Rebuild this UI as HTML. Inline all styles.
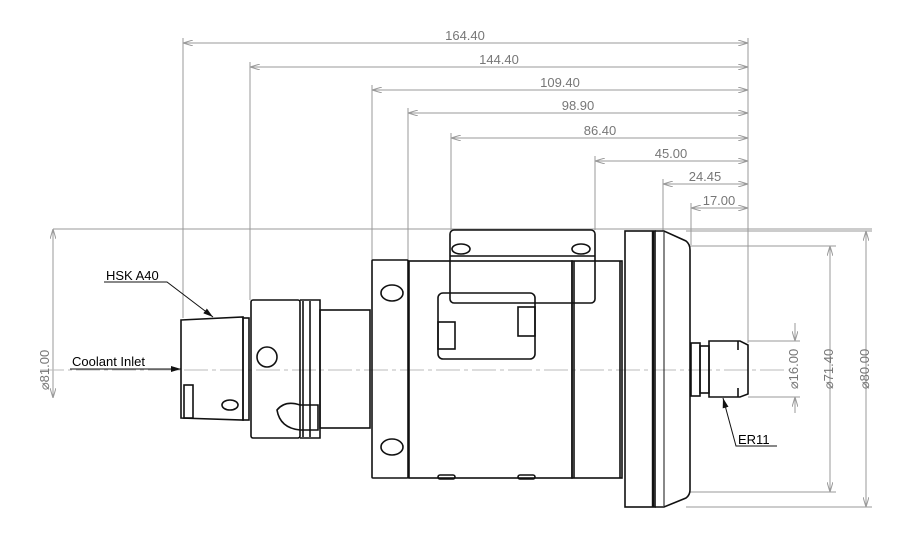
<!DOCTYPE html>
<html><head><meta charset="utf-8"><style>
html,body{margin:0;padding:0;background:#fff;}
svg{display:block;}
.d{stroke:#999;stroke-width:1;fill:none}
.k{stroke:#111;stroke-width:1.6;fill:none}
.kt{stroke:#111;stroke-width:1;fill:none}
text{font-family:"Liberation Sans",sans-serif;}
.dt{font-size:13px;fill:#777;}
.lt{font-size:13px;fill:#000;}
</style></head><body>
<svg width="918" height="534" viewBox="0 0 918 534" xmlns="http://www.w3.org/2000/svg">
<defs>
<marker id="a" viewBox="0 0 10 6" refX="10" refY="3" markerWidth="10" markerHeight="6" orient="auto-start-reverse" markerUnits="userSpaceOnUse"><path d="M0,0 L10,3 L0,6" fill="none" stroke="#999"/></marker>
<marker id="b" viewBox="0 0 10 6" refX="10" refY="3" markerWidth="10" markerHeight="6" orient="auto" markerUnits="userSpaceOnUse"><path d="M0,0 L10,3 L0,6z" fill="#111"/></marker>
</defs>
<g class="d" marker-start="url(#a)" marker-end="url(#a)">
<line x1="183" y1="43" x2="748" y2="43"/>
<line x1="250" y1="67" x2="748" y2="67"/>
<line x1="372" y1="90" x2="748" y2="90"/>
<line x1="408" y1="113" x2="748" y2="113"/>
<line x1="451" y1="138" x2="748" y2="138"/>
<line x1="595" y1="161" x2="748" y2="161"/>
<line x1="663" y1="184" x2="748" y2="184"/>
<line x1="691" y1="208" x2="748" y2="208"/>
<line x1="53" y1="229" x2="53" y2="398"/>
<line x1="866" y1="231" x2="866" y2="507"/>
<line x1="830" y1="246" x2="830" y2="492"/>
</g>
<g class="d">
<line x1="183" y1="38" x2="183" y2="318"/>
<line x1="250" y1="62" x2="250" y2="300"/>
<line x1="372" y1="85" x2="372" y2="260"/>
<line x1="408" y1="108" x2="408" y2="261"/>
<line x1="451" y1="133" x2="451" y2="230"/>
<line x1="595" y1="156" x2="595" y2="230"/>
<line x1="663" y1="179" x2="663" y2="231"/>
<line x1="691" y1="203" x2="691" y2="245"/>
<line x1="748" y1="38" x2="748" y2="343"/>
<line x1="53" y1="229" x2="872" y2="229"/>
<line x1="686" y1="231" x2="872" y2="231"/>
<line x1="690" y1="246" x2="836" y2="246"/>
<line x1="690" y1="492" x2="836" y2="492"/>
<line x1="686" y1="507" x2="872" y2="507"/>
<line x1="748" y1="341" x2="800" y2="341"/>
<line x1="748" y1="397" x2="800" y2="397"/>
<line x1="795" y1="323" x2="795" y2="341" marker-end="url(#a)"/>
<line x1="795" y1="413" x2="795" y2="397" marker-end="url(#a)"/>
<line x1="40" y1="370" x2="790" y2="370" stroke-dasharray="24,4,4,4" stroke="#bbb"/>
</g>
<g class="dt" text-anchor="middle">
<text x="465" y="40">164.40</text>
<text x="499" y="64">144.40</text>
<text x="560" y="87">109.40</text>
<text x="578" y="110">98.90</text>
<text x="600" y="135">86.40</text>
<text x="671" y="158">45.00</text>
<text x="705" y="181">24.45</text>
<text x="719" y="205">17.00</text>
<text transform="translate(49,370) rotate(-90)">⌀81.00</text>
<text transform="translate(798,369) rotate(-90)">⌀16.00</text>
<text transform="translate(833,369) rotate(-90)">⌀71.40</text>
<text transform="translate(869,369) rotate(-90)">⌀80.00</text>
</g>
<text class="lt" x="106" y="280">HSK A40</text>
<polyline class="kt" points="104,282 167,282 213,317" marker-end="url(#b)"/>
<text class="lt" x="72" y="366">Coolant Inlet</text>
<line class="kt" x1="70" y1="369" x2="181" y2="369" marker-end="url(#b)"/>
<text class="lt" x="738" y="444">ER11</text>
<polyline class="kt" points="777,446 736,446 723,398" marker-end="url(#b)"/>
<g class="k">
<path d="M181,320 L243,317 L243,420 L181,418 Z"/>
<rect x="243" y="318" width="6" height="102"/>
<rect x="184" y="385" width="9" height="33"/>
<ellipse cx="230" cy="405" rx="8" ry="5"/>
<rect x="251" y="300" width="49" height="138" rx="2"/>
<circle cx="267" cy="357" r="10"/>
<path d="M300,300 L320,300 L320,438 L300,438"/>
<line x1="303" y1="301" x2="303" y2="437"/>
<line x1="310" y1="301" x2="310" y2="437"/>
<path d="M277,410 Q285,400 300,405 L318,405 L318,430 L300,430 Q280,428 277,410Z"/>
<rect x="320" y="310" width="50" height="118"/>
<rect x="372" y="260" width="36" height="218" rx="1"/>
<ellipse cx="392" cy="293" rx="11" ry="8"/>
<ellipse cx="392" cy="447" rx="11" ry="8"/>
<rect x="409" y="261" width="163" height="217"/>
<rect x="572" y="261" width="50" height="217"/>
<line x1="574" y1="261" x2="574" y2="478"/>
<line x1="620" y1="261" x2="620" y2="478"/>
<rect x="450" y="230" width="145" height="73" rx="4"/>
<line x1="450" y1="256" x2="595" y2="256"/>
<ellipse cx="461" cy="249" rx="9" ry="5"/>
<ellipse cx="581" cy="249" rx="9" ry="5"/>
<rect x="438" y="293" width="97" height="66" rx="5"/>
<rect x="438" y="322" width="17" height="27"/>
<rect x="518" y="307" width="17" height="29"/>
<rect x="438" y="475" width="17" height="4" rx="2"/>
<rect x="518" y="475" width="17" height="4" rx="2"/>
<rect x="625" y="231" width="30" height="276"/>
<line x1="653" y1="231" x2="653" y2="507" stroke-width="2.4"/>
<path d="M655,231 L664,231 L686,241 Q690,244 690,250 L690,490 Q690,495 686,498 L664,507 L655,507"/>
<line x1="664" y1="232" x2="664" y2="506" stroke-width="1"/>
<rect x="691" y="343" width="9" height="53"/>
<rect x="700" y="346" width="9" height="47"/>
<path d="M709,341 L740,341 L748,345 L748,394 L740,397 L709,397 Z"/>
<line x1="738" y1="341" x2="738" y2="350"/>
<line x1="738" y1="388" x2="738" y2="397"/>
</g>
</svg>
</body></html>
